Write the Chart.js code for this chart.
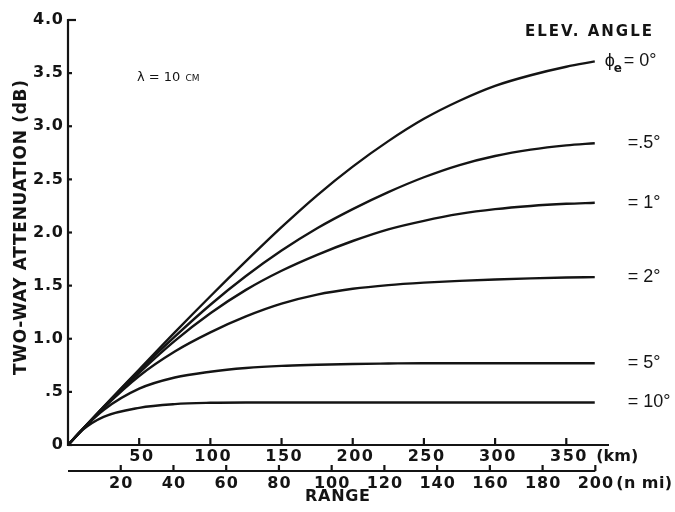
<!DOCTYPE html>
<html>
<head>
<meta charset="utf-8">
<script src="https://cdn.jsdelivr.net/npm/chart.js@4.4.0/dist/chart.umd.min.js"></script>
<style>
  html, body { margin: 0; padding: 0; background: #fff; }
  #wrap { width: 675px; height: 512px; }
</style>
</head>
<body>
<div id="wrap"><canvas id="attenChart"></canvas></div>
<script>
const KM_PER_NMI = 1.852;

// range samples (km) and two-way attenuation (dB) for each elevation angle
const rangeKm  = [0, 10, 25, 50, 75, 100, 125, 150, 175, 200, 225, 250, 275, 300, 325, 350, 370];
const atten0   = [0, 0.145, 0.36, 0.71, 1.06, 1.40, 1.73, 2.05, 2.35, 2.62, 2.86, 3.07, 3.24, 3.38, 3.48, 3.56, 3.61];
const atten05  = [0, 0.145, 0.36, 0.70, 1.02, 1.32, 1.59, 1.83, 2.04, 2.22, 2.38, 2.52, 2.635, 2.72, 2.78, 2.82, 2.84];
const atten1   = [0, 0.145, 0.355, 0.68, 0.98, 1.24, 1.46, 1.64, 1.79, 1.92, 2.03, 2.11, 2.175, 2.22, 2.25, 2.27, 2.28];
const atten2   = [0, 0.145, 0.35, 0.65, 0.88, 1.06, 1.21, 1.33, 1.415, 1.47, 1.505, 1.528, 1.545, 1.558, 1.568, 1.576, 1.58];
const atten5   = [0, 0.145, 0.33, 0.53, 0.635, 0.69, 0.725, 0.745, 0.755, 0.763, 0.767, 0.77, 0.77, 0.77, 0.77, 0.77, 0.77];
const atten10  = [0, 0.14, 0.265, 0.35, 0.385, 0.397, 0.40, 0.40, 0.40, 0.40, 0.40, 0.40, 0.40, 0.40, 0.40, 0.40, 0.40];
const angleText = ["= 0°", "=.5°", "= 1°", "= 2°", "= 5°", "= 10°"];

const yTickValues = [0, 0.5, 1, 1.5, 2, 2.5, 3, 3.5, 4];
const yTickText   = ["0", ".5", "1.0", "1.5", "2.0", "2.5", "3.0", "3.5", "4.0"];
const kmTicks  = [50, 100, 150, 200, 250, 300, 350];
const nmiTicks = [20, 40, 60, 80, 100, 120, 140, 160, 180, 200];

const series = [atten0, atten05, atten1, atten2, atten5, atten10];
const INK = "#141414";

const datasets = series.map((vals) => ({
  data: rangeKm.map((km, i) => ({ x: km, y: vals[i] })),
  borderColor: INK,
  borderWidth: 2.4,
  pointRadius: 0,
  fill: false,
  cubicInterpolationMode: "monotone",
}));

// text with extra spacing between letters, anchored left / center / right
function drawSpaced(ctx, text, ax, cy, gap, align) {
  ctx.letterSpacing = "0px";
  const natural = ctx.measureText(text).width;
  const total = natural + gap * (text.length - 1);
  let left = ax;
  if (align === "center") left = ax - total / 2;
  if (align === "right") left = ax - total;
  ctx.letterSpacing = gap + "px";
  ctx.textAlign = "left";
  ctx.textBaseline = "middle";
  ctx.fillText(text, left, cy);
  ctx.letterSpacing = "0px";
}

// stretch text to a given width
function drawFitted(ctx, text, left, cy, width) {
  ctx.letterSpacing = "0px";
  const natural = ctx.measureText(text).width;
  drawSpaced(ctx, text, left, cy, (width - natural) / (text.length - 1), "left");
}

function seg(ctx, x1, y1, x2, y2) {
  ctx.beginPath();
  ctx.moveTo(x1, y1);
  ctx.lineTo(x2, y2);
  ctx.stroke();
}

const paperAxes = {
  id: "paperAxes",
  afterDraw(chart) {
    const { ctx } = chart;
    const x = chart.scales.x;
    const y = chart.scales.y;
    const x0 = x.getPixelForValue(0);
    const y0 = y.getPixelForValue(0);
    const yTop = y.getPixelForValue(4);

    ctx.save();
    ctx.strokeStyle = INK;
    ctx.fillStyle = INK;
    ctx.lineWidth = 2.2;
    ctx.lineCap = "butt";

    // y axis with inward ticks
    seg(ctx, x0, y0 + 1, x0, yTop - 1);
    yTickValues.forEach((v) => {
      const py = y.getPixelForValue(v);
      seg(ctx, x0, py, x0 + (v === 4 ? 8 : 4), py);
    });
    ctx.font = "bold 16px 'DejaVu Sans'";
    yTickValues.forEach((v, i) => {
      drawSpaced(ctx, yTickText[i], x0 - 5, y.getPixelForValue(v), 0.8, "right");
    });

    // km scale
    const kmEnd = x.getPixelForValue(380);
    seg(ctx, x0, y0, kmEnd, y0);
    kmTicks.forEach((km) => {
      const px = x.getPixelForValue(km);
      seg(ctx, px, y0, px, y0 - 7);
      drawSpaced(ctx, String(km), px + 2, y0 + 12, 1.5, "center");
    });
    drawSpaced(ctx, "(km)", x.getPixelForValue(350) + 30, y0 + 12, 0, "left");

    // nautical mile scale
    const yN = y0 + 26;
    const nmiEnd = x.getPixelForValue(200 * KM_PER_NMI);
    seg(ctx, x0, yN, nmiEnd, yN);
    nmiTicks.forEach((nm) => {
      const px = x.getPixelForValue(nm * KM_PER_NMI);
      seg(ctx, px, yN, px, yN - 6);
      drawSpaced(ctx, String(nm), px, yN + 13, 1, "center");
    });
    drawSpaced(ctx, "(n mi)", nmiEnd + 21, yN + 13, 0.4, "left");

    // axis titles
    ctx.font = "bold 16px 'DejaVu Sans'";
    drawFitted(ctx, "RANGE", 305, y0 + 52, 65);
    ctx.save();
    ctx.translate(21.5, 228);
    ctx.rotate(-Math.PI / 2);
    ctx.font = "bold 17px 'DejaVu Sans'";
    drawFitted(ctx, "TWO-WAY ATTENUATION (dB)", -147, 0, 295);
    ctx.restore();

    // wavelength note
    const ly = y.getPixelForValue(3.46);
    ctx.font = "13px 'DejaVu Sans'";
    ctx.textAlign = "left";
    ctx.textBaseline = "middle";
    ctx.fillText("λ = 10", x0 + 69, ly);
    const lw = ctx.measureText("λ = 10").width;
    ctx.font = "9px 'DejaVu Sans'";
    ctx.fillText("CM", x0 + 69 + lw + 5, ly + 1);

    // elevation angle labels at the curve ends
    ctx.font = "bold 15px 'DejaVu Sans'";
    drawFitted(ctx, "ELEV. ANGLE", 525, 32, 127);
    const lastX = rangeKm[rangeKm.length - 1];
    const endPx = x.getPixelForValue(lastX);
    series.forEach((vals, i) => {
      const py = y.getPixelForValue(vals[vals.length - 1]);
      ctx.font = "18px 'Liberation Sans'";
      ctx.textAlign = "left";
      ctx.textBaseline = "middle";
      if (i === 0) {
        ctx.fillText("ϕ", endPx + 10, py);
        ctx.font = "bold 12px 'DejaVu Sans'";
        ctx.fillText("e", endPx + 19, py + 7);
        ctx.font = "18px 'Liberation Sans'";
        ctx.fillText(angleText[i], endPx + 29, py);
      } else {
        ctx.fillText(angleText[i], endPx + 33, py);
      }
    });

    ctx.restore();
  },
};

new Chart(document.getElementById("attenChart"), {
  type: "line",
  data: { datasets },
  options: {
    responsive: true,
    maintainAspectRatio: false,
    animation: false,
    layout: { padding: { left: 68, top: 20, right: 66, bottom: 67 } },
    plugins: {
      legend: { display: false },
      tooltip: { enabled: false },
    },
    scales: {
      x: { type: "linear", min: 0, max: 380, display: false },
      y: { type: "linear", min: 0, max: 4, display: false },
    },
  },
  plugins: [paperAxes],
});
</script>
</body>
</html>
